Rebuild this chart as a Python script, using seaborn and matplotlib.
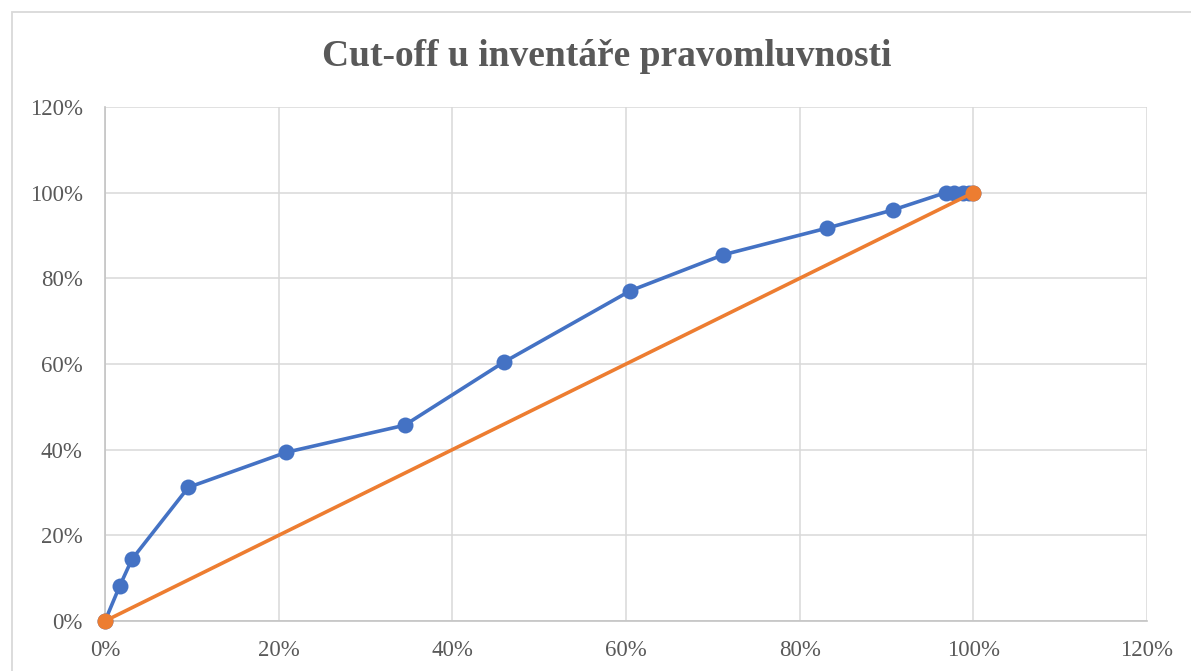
import matplotlib
matplotlib.use("Agg")
import matplotlib.pyplot as plt
import seaborn as sns
import pandas as pd
from matplotlib.ticker import FuncFormatter
from matplotlib.patches import Rectangle

# Data (percent)
blue_x = [0, 1.7, 3.1, 9.6, 20.9, 34.5, 45.9, 60.5, 71.2, 83.1, 90.8, 96.8, 97.8, 98.8, 99.5, 100]
blue_y = [0, 8.2, 14.4, 31.2, 39.4, 45.7, 60.4, 77.1, 85.5, 91.7, 96.0, 100, 100, 100, 100, 100]
orange_x = [0, 100]
orange_y = [0, 100]
title = "Cut-off u inventáře pravomluvnosti"
axis_ticks = [0, 20, 40, 60, 80, 100, 120]

sns.set_theme(style="white")
plt.rcParams['font.family'] = ['Liberation Serif', 'DejaVu Serif']

W, H = 1191, 671
fig = plt.figure(figsize=(W / 100, H / 100), dpi=100)
ax = fig.add_axes([105 / W, 1 - 621 / H, (1147 - 105) / W, (621 - 107) / H])

df_b = pd.DataFrame({"x": blue_x, "y": blue_y})
df_o = pd.DataFrame({"x": orange_x, "y": orange_y})

sns.lineplot(data=df_b, x="x", y="y", sort=False, estimator=None, ax=ax,
             color="#4472C4", linewidth=2.6, marker="o", markersize=11.5,
             markeredgewidth=0, zorder=3, clip_on=False)
sns.lineplot(data=df_o, x="x", y="y", sort=False, estimator=None, ax=ax,
             color="#ED7D31", linewidth=2.6, marker="o", markersize=11.5,
             markeredgewidth=0, zorder=4, clip_on=False)

ax.set_xlim(0, 120)
ax.set_ylim(0, 120)
ax.set_xticks(axis_ticks)
ax.set_yticks(axis_ticks)
fmt = FuncFormatter(lambda v, p: f"{int(round(v))}%")
ax.xaxis.set_major_formatter(fmt)
ax.yaxis.set_major_formatter(fmt)
ax.grid(True, color="#D9D9D9", linewidth=1.1)
ax.set_axisbelow(True)
for s in ["top", "right"]:
    ax.spines[s].set_visible(False)
for s in ["bottom", "left"]:
    ax.spines[s].set_color("#C4C4C4")
    ax.spines[s].set_linewidth(1.2)
ax.tick_params(axis="both", which="both", length=0,
               labelsize=16.5, labelcolor="#595959")
ax.tick_params(axis="x", pad=14)
ax.tick_params(axis="y", pad=16)
ax.set_xlabel("")
ax.set_ylabel("")

# Chart area border (top-left visible)
fig.patches.append(Rectangle((12 / W, -0.1), 1.2, 1 - 12 / H + 0.1,
                             transform=fig.transFigure, fill=False,
                             edgecolor="#D9D9D9", linewidth=1.3))

fig.text(607 / W, 1 - 56 / H, title, ha="center", va="center",
         fontsize=27, fontweight="bold", color="#595959")

fig.savefig("out.png", dpi=100)
